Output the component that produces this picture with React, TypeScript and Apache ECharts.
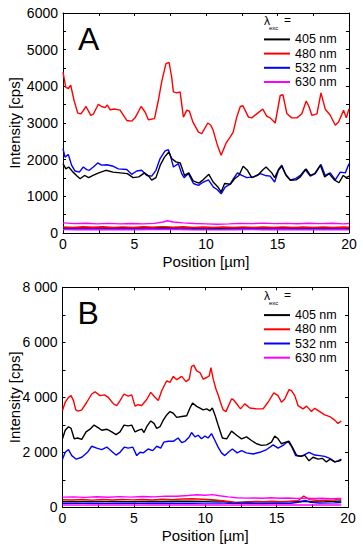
import React, { useEffect, useRef } from "react";
import * as echarts from "echarts";

const FONT = "'Liberation Sans', Arial, Helvetica, sans-serif";

const legendNames = ["405 nm", "480 nm", "532 nm", "630 nm"];
const lineColors = ["#000000", "#ff0000", "#0000ff", "#ff00ff"];

// ---------- Panel A ----------
const A405 = [[0,1890],[0.2,1750],[0.4,1800],[0.7,1660],[1.0,1550],[1.2,1480],[1.5,1570],[1.8,1510],[2.1,1570],[2.5,1640],[3.0,1710],[3.5,1660],[4.0,1640],[4.5,1620],[4.9,1510],[5.3,1530],[5.7,1640],[6.0,1550],[6.2,1440],[6.5,1510],[6.8,1850],[7.1,2070],[7.4,2210],[7.6,2030],[7.9,1940],[8.2,1910],[8.5,1570],[8.8,1640],[9.1,1420],[9.5,1360],[9.8,1450],[10.2,1600],[10.5,1390],[10.8,1270],[11.06,1120],[11.3,1350],[11.7,1330],[12.0,1480],[12.3,1570],[12.6,1820],[12.9,1710],[13.2,1510],[13.6,1570],[14.0,1730],[14.2,1800],[14.6,1640],[14.8,1510],[15.1,1750],[15.3,1850],[15.6,1570],[15.9,1440],[16.3,1450],[16.6,1530],[17.0,1750],[17.3,1570],[17.6,1620],[18.0,1850],[18.3,1530],[18.6,1620],[19.0,1440],[19.3,1370],[19.6,1570],[19.8,1510],[20,1550]];
const A480 = [[0,4390],[0.19,3980],[0.37,3940],[0.54,4030],[0.77,3620],[1.03,3270],[1.26,3250],[1.61,3450],[1.94,3210],[2.12,3240],[2.47,3510],[2.7,3450],[2.94,3420],[3.1,3490],[3.3,3360],[3.64,3380],[3.99,3350],[4.46,3070],[4.8,3050],[5.04,3140],[5.46,3450],[5.74,3300],[5.97,3090],[6.4,3120],[6.67,3620],[6.9,4120],[7.2,4620],[7.42,4650],[7.6,4250],[7.72,3850],[7.96,3820],[8.19,3850],[8.42,3160],[8.66,3350],[8.84,3320],[9.08,3030],[9.47,2750],[9.7,2710],[10.13,3000],[10.34,2940],[10.5,2800],[10.8,2390],[11.06,2120],[11.4,2450],[11.7,2620],[11.9,2750],[12.15,3160],[12.4,3450],[12.58,3470],[12.97,3160],[13.2,3140],[13.55,3250],[13.97,3380],[14.26,3180],[14.49,3140],[14.84,3000],[15.19,3750],[15.38,3770],[15.66,3250],[16.0,3140],[16.36,3140],[16.7,3250],[17.01,3600],[17.2,3450],[17.4,3210],[17.76,3250],[18.04,3820],[18.34,3380],[18.69,3210],[19.04,2940],[19.27,3030],[19.62,3350],[19.81,3140],[20,3390]];
const A532 = [[0,2300],[0.14,2070],[0.37,2140],[0.6,1850],[0.84,1690],[1.14,1660],[1.42,1800],[1.66,1730],[1.84,1710],[2.12,1800],[2.43,1910],[2.7,1850],[3.06,1860],[3.52,1820],[3.87,1750],[4.46,1730],[4.8,1600],[5.16,1690],[5.5,1710],[5.86,1570],[6.2,1550],[6.5,1710],[6.79,2030],[7.14,2240],[7.37,2270],[7.54,2070],[7.72,1800],[8.07,1890],[8.3,1620],[8.47,1510],[8.77,1620],[9.12,1350],[9.47,1300],[9.82,1390],[10.17,1450],[10.52,1250],[10.8,1180],[11.06,1070],[11.34,1250],[11.69,1330],[11.92,1480],[12.2,1640],[12.5,1570],[12.86,1510],[13.32,1530],[13.79,1620],[14.14,1570],[14.49,1550],[14.8,1390],[15.07,1710],[15.3,1820],[15.54,1620],[15.89,1450],[16.24,1480],[16.6,1570],[16.94,1730],[17.29,1550],[17.64,1620],[18.04,1870],[18.34,1570],[18.69,1640],[19.04,1450],[19.39,1660],[19.74,1640],[20,1890]];
const A630 = [[0,275],[0.8,255],[1.6,265],[2.4,250],[3.2,262],[4.0,248],[4.8,258],[5.6,250],[6.4,262],[7.0,300],[7.3,335],[7.7,300],[8.4,275],[9.2,260],[10.0,250],[10.8,240],[11.6,248],[12.4,262],[13.2,255],[14.0,268],[14.8,255],[15.6,262],[16.4,252],[17.2,266],[18.0,255],[18.8,264],[19.6,250],[20,258]];
const A405bg = [[0,140],[1,135],[2,145],[3,138],[4,142],[5,136],[6,144],[7,150],[8,140],[9,136],[10,132],[11,128],[12,136],[13,140],[14,138],[15,142],[16,135],[17,140],[18,137],[19,142],[20,138]];
const A480bg = [[0,165],[0.7,150],[1.4,170],[2.1,155],[2.8,172],[3.5,150],[4.2,168],[4.9,152],[5.6,170],[6.3,155],[7.0,175],[7.7,158],[8.4,170],[9.1,150],[9.8,165],[10.5,148],[11.2,162],[11.9,150],[12.6,168],[13.3,152],[14.0,166],[14.7,150],[15.4,168],[16.1,152],[16.8,165],[17.5,150],[18.2,166],[18.9,152],[19.6,164],[20,155]];
const A532bg = [[0,108],[1,104],[2,112],[3,106],[4,110],[5,104],[6,112],[7,116],[8,108],[9,104],[10,100],[11,98],[12,104],[13,108],[14,106],[15,110],[16,104],[17,108],[18,105],[19,110],[20,106]];
const A630bg = [[0,92],[1,88],[2,95],[3,90],[4,94],[5,89],[6,95],[7,98],[8,92],[9,88],[10,86],[11,84],[12,90],[13,92],[14,90],[15,94],[16,89],[17,92],[18,90],[19,94],[20,90]];

// ---------- Panel B ----------
const B405 = [[0,2490],[0.19,2800],[0.42,2930],[0.6,2870],[0.82,2490],[1.05,2520],[1.35,2470],[1.65,2740],[1.93,2840],[2.21,2990],[2.52,2890],[2.75,2800],[3.1,2840],[3.45,2740],[3.75,2640],[4.03,2740],[4.31,2990],[4.6,2960],[4.85,2990],[5.08,2740],[5.3,2800],[5.55,2840],[5.71,2720],[5.9,2930],[6.18,3140],[6.41,3050],[6.6,2870],[6.83,2930],[7.06,3170],[7.3,3360],[7.53,3480],[7.76,3420],[8.0,3270],[8.35,3300],[8.7,3330],[8.93,3610],[9.11,3790],[9.4,3670],[9.63,3610],[9.86,3540],[10.1,3580],[10.33,3510],[10.5,3610],[10.68,3360],[10.9,2990],[11.2,2520],[11.5,2490],[11.84,2770],[12.2,2620],[12.54,2490],[12.89,2560],[13.24,2430],[13.6,2310],[13.94,2250],[14.3,2270],[14.64,2370],[14.87,2590],[15.1,2490],[15.34,2310],[15.64,2370],[15.87,2400],[16.1,2190],[16.39,1900],[16.74,1850],[16.97,1900],[17.27,1690],[17.55,1820],[17.9,1750],[18.2,1780],[18.48,1650],[18.76,1750],[19.07,1650],[19.42,1690],[19.53,1730]];
const B480 = [[0,3520],[0.19,3820],[0.42,4000],[0.6,4060],[0.77,3880],[0.93,3540],[1.1,3500],[1.35,3540],[1.7,3820],[2.05,4120],[2.28,4200],[2.63,4060],[2.94,4090],[3.2,4000],[3.57,3760],[3.8,3700],[4.03,3880],[4.31,4120],[4.6,4040],[4.85,4090],[5.08,3680],[5.3,3730],[5.55,3700],[5.9,3920],[6.18,4180],[6.48,4000],[6.71,3880],[6.95,4240],[7.3,4600],[7.53,4540],[7.76,4760],[8.0,4640],[8.35,4760],[8.65,4570],[8.88,4660],[9.04,5120],[9.2,5170],[9.4,4960],[9.63,4900],[9.86,4660],[10.1,4720],[10.28,4780],[10.4,5080],[10.56,4660],[10.75,4300],[10.9,4090],[11.14,3700],[11.26,3540],[11.45,3480],[11.84,3940],[11.96,3920],[12.3,3700],[12.47,3580],[12.77,3760],[13.12,3610],[13.6,3580],[14.05,3580],[14.4,3820],[14.8,4160],[15.1,4060],[15.34,3820],[15.57,3940],[15.87,4280],[16.04,4240],[16.27,4060],[16.5,3700],[16.85,3580],[17.1,3680],[17.44,3480],[17.67,3600],[18.02,3480],[18.37,3360],[18.72,3300],[19.07,3170],[19.3,3050],[19.53,3140]];
const B532 = [[0,1750],[0.19,2000],[0.42,2100],[0.65,1880],[0.96,1750],[1.35,1820],[1.75,2000],[2.05,2220],[2.4,2150],[2.75,2100],[3.1,2190],[3.52,2000],[3.75,1900],[4.03,2000],[4.34,2190],[4.6,2150],[4.92,2190],[5.2,1880],[5.43,2000],[5.66,1980],[6.0,2120],[6.32,2060],[6.6,2220],[6.88,2150],[7.1,2370],[7.41,2400],[7.76,2400],[8.1,2520],[8.35,2350],[8.58,2400],[8.88,2560],[9.04,2720],[9.28,2560],[9.5,2620],[9.74,2490],[9.98,2590],[10.2,2520],[10.44,2680],[10.68,2430],[10.9,2190],[11.14,1980],[11.37,1880],[11.68,2030],[11.9,2120],[12.24,1980],[12.54,2060],[12.89,1980],[13.36,1940],[13.82,2000],[14.3,2100],[14.76,2270],[15.1,2150],[15.45,2250],[15.8,2400],[16.04,2220],[16.34,1880],[16.6,1850],[16.9,1900],[17.27,2000],[17.67,1900],[18.02,1880],[18.37,1850],[18.72,1780],[19.07,1650],[19.3,1690],[19.53,1750]];
const B630 = [[0,370],[0.8,380],[1.6,360],[2.4,385],[3.2,365],[4.0,390],[4.8,370],[5.6,395],[6.4,380],[7.2,405],[8.0,400],[8.8,430],[9.4,455],[10.0,440],[10.5,460],[11.0,420],[11.6,380],[12.2,345],[12.8,335],[13.4,340],[14.0,330],[14.6,345],[15.2,330],[15.8,340],[16.4,325],[17.0,335],[17.6,320],[18.2,330],[18.8,315],[19.53,320]];
const B405bg = [[0,210],[1,200],[2,215],[3,205],[4,212],[5,200],[6,215],[7,210],[8,220],[9,225],[10,215],[11,240],[11.6,190],[12.2,180],[13,195],[14,205],[15,200],[16,210],[17,220],[17.6,195],[18.4,205],[19,215],[19.53,230]];
const B480bg = [[0,280],[0.7,265],[1.4,285],[2.1,260],[2.8,285],[3.5,265],[4.2,290],[4.9,270],[5.6,285],[6.3,265],[7.0,295],[7.7,280],[8.4,300],[9.1,310],[9.8,295],[10.5,280],[11.2,240],[11.8,200],[12.3,150],[12.9,190],[13.5,215],[14.1,200],[14.7,220],[15.3,205],[15.9,215],[16.5,240],[16.9,410],[17.3,280],[17.9,245],[18.5,255],[19.1,265],[19.3,310],[19.53,290]];
const B532bg = [[0,145],[1,140],[2,150],[3,142],[4,148],[5,140],[6,150],[7,145],[8,152],[9,148],[10,150],[11,160],[12,140],[13,145],[14,140],[15,150],[16,148],[16.7,200],[17.0,250],[17.4,180],[18,150],[19,160],[19.53,175]];
const B630bg = [[0,85],[1,80],[2,88],[3,82],[4,86],[5,80],[6,88],[7,84],[8,90],[9,86],[10,88],[11,84],[12,80],[13,84],[14,82],[15,86],[16,84],[17,88],[18,84],[19,86],[19.53,84]];

const panelLetters = ["A", "B"];
const yMax = [6000, 8000];
const yTickStep = [500, 1000];
const yLabelStep = [1000, 2000];
const xMin = 0;
const xMax = 20;
const xTickStep = 2.5;
const xLabelStep = 5;

const GRIDS = [
  { left: 63, top: 13, width: 286, height: 220 },
  { left: 62.5, top: 287.3, width: 285.5, height: 220 },
];

function fmtY(v: number, panel: number): string {
  if (v % yLabelStep[panel] !== 0) return "";
  if (panel === 1 && v >= 1000) {
    const s = String(v);
    return s.slice(0, s.length - 3) + " " + s.slice(s.length - 3);
  }
  return String(v);
}

export default function App() {
  const ref = useRef<HTMLDivElement>(null);
  useEffect(() => {
    if (!ref.current) return;
    const chart = echarts.init(ref.current, undefined, { renderer: "svg" });

    const xAxes: any[] = [];
    const yAxes: any[] = [];
    [0, 1].forEach((p) => {
      const common = {
        gridIndex: p,
        type: "value",
        min: xMin,
        max: xMax,
        interval: xTickStep,
        splitLine: { show: false },
        axisLine: { show: true, onZero: false, lineStyle: { color: "#000", width: 1 } },
        axisTick: { show: true, inside: true, length: 3, lineStyle: { color: "#000" } },
      };
      xAxes.push({
        ...common,
        position: "bottom",
        name: "Position [µm]",
        nameLocation: "middle",
        nameGap: 21,
        nameMoveOverlap: false,
        nameTextStyle: { fontFamily: FONT, fontSize: 15, color: "#000" },
        axisLabel: {
          fontFamily: FONT,
          fontSize: 14,
          color: "#000",
          margin: 4,
          formatter: (v: number) => (v % xLabelStep === 0 ? String(v) : ""),
        },
      });
      xAxes.push({ ...common, position: "top", axisLabel: { show: false } });
      const ycommon = {
        gridIndex: p,
        type: "value",
        min: 0,
        max: yMax[p],
        interval: yTickStep[p],
        splitLine: { show: false },
        axisLine: { show: true, onZero: false, lineStyle: { color: "#000", width: 1 } },
        axisTick: { show: true, inside: true, length: 3, lineStyle: { color: "#000" } },
      };
      yAxes.push({
        ...ycommon,
        position: "left",
        name: "Intensity [cps]",
        nameLocation: "middle",
        nameGap: 41 - (GRIDS[0].left - GRIDS[p].left),
        nameMoveOverlap: false,
        nameTextStyle: { fontFamily: FONT, fontSize: 15, color: "#000" },
        axisLabel: {
          fontFamily: FONT,
          fontSize: 14,
          color: "#000",
          margin: 5,
          formatter: (v: number) => fmtY(v, p),
        },
      });
      yAxes.push({ ...ycommon, position: "right", axisLabel: { show: false } });
    });

    const mk = (name: string, data: number[][], color: string, p: number) => ({
      type: "line",
      name,
      data,
      xAxisIndex: p * 2,
      yAxisIndex: p * 2,
      showSymbol: false,
      symbol: "none",
      lineStyle: { color, width: 1.4 },
      itemStyle: { color },
      z: 2,
    });

    const series = [
      mk("405 nm bg", A405bg, lineColors[0], 0),
      mk("480 nm bg", A480bg, lineColors[1], 0),
      mk("532 nm bg", A532bg, lineColors[2], 0),
      mk("630 nm bg", A630bg, lineColors[3], 0),
      mk(legendNames[3], A630, lineColors[3], 0),
      mk(legendNames[2], A532, lineColors[2], 0),
      mk(legendNames[0], A405, lineColors[0], 0),
      mk(legendNames[1], A480, lineColors[1], 0),
      mk("405 nm bg", B405bg, lineColors[0], 1),
      mk("480 nm bg", B480bg, lineColors[1], 1),
      mk("532 nm bg", B532bg, lineColors[2], 1),
      mk("630 nm bg", B630bg, lineColors[3], 1),
      mk(legendNames[3], B630, lineColors[3], 1),
      mk(legendNames[2], B532, lineColors[2], 1),
      mk(legendNames[0], B405, lineColors[0], 1),
      mk(legendNames[1], B480, lineColors[1], 1),
    ];

    const legendCommon = {
      data: legendNames,
      orient: "vertical",
      left: 264,
      padding: 0,
      itemGap: 0,
      itemWidth: 26,
      itemHeight: 2,
      icon: "rect",
      selectedMode: false,
      textStyle: { fontFamily: FONT, fontSize: 12.5, color: "#000", lineHeight: 14.2 },
    };

    const lambdaY = [20.5, 296];
    const graphic: any[] = [];
    [0, 1].forEach((p) => {
      graphic.push({
        type: "text",
        x: GRIDS[p].left + 15,
        y: GRIDS[p].top + 26,
        style: { text: panelLetters[p], font: `32px ${FONT}`, fill: "#000", verticalAlign: "middle", align: "left" },
      });
      graphic.push({
        type: "text",
        x: 264,
        y: lambdaY[p],
        style: { text: "λ", font: `12px ${FONT}`, fill: "#000", verticalAlign: "middle", align: "left" },
      });
      graphic.push({
        type: "text",
        x: 269,
        y: lambdaY[p] + 7,
        style: { text: "exc", font: `6px ${FONT}`, fill: "#000", verticalAlign: "middle", align: "left" },
      });
      graphic.push({
        type: "text",
        x: 284,
        y: lambdaY[p] - 1,
        style: { text: "=", font: `12px ${FONT}`, fill: "#000", verticalAlign: "middle", align: "left" },
      });
    });

    chart.setOption({
      animation: false,
      backgroundColor: "#ffffff",
      grid: GRIDS.map((g) => ({ ...g, containLabel: false, outerBoundsMode: "none" })),
      xAxis: xAxes,
      yAxis: yAxes,
      legend: [
        { ...legendCommon, top: 32.3 },
        { ...legendCommon, top: 308 },
      ],
      graphic,
      series,
    });
    return () => chart.dispose();
  }, []);
  return (
    <div
      ref={ref}
      style={{ position: "absolute", left: 0, top: 0, width: 363, height: 550, background: "#fff" }}
    />
  );
}
